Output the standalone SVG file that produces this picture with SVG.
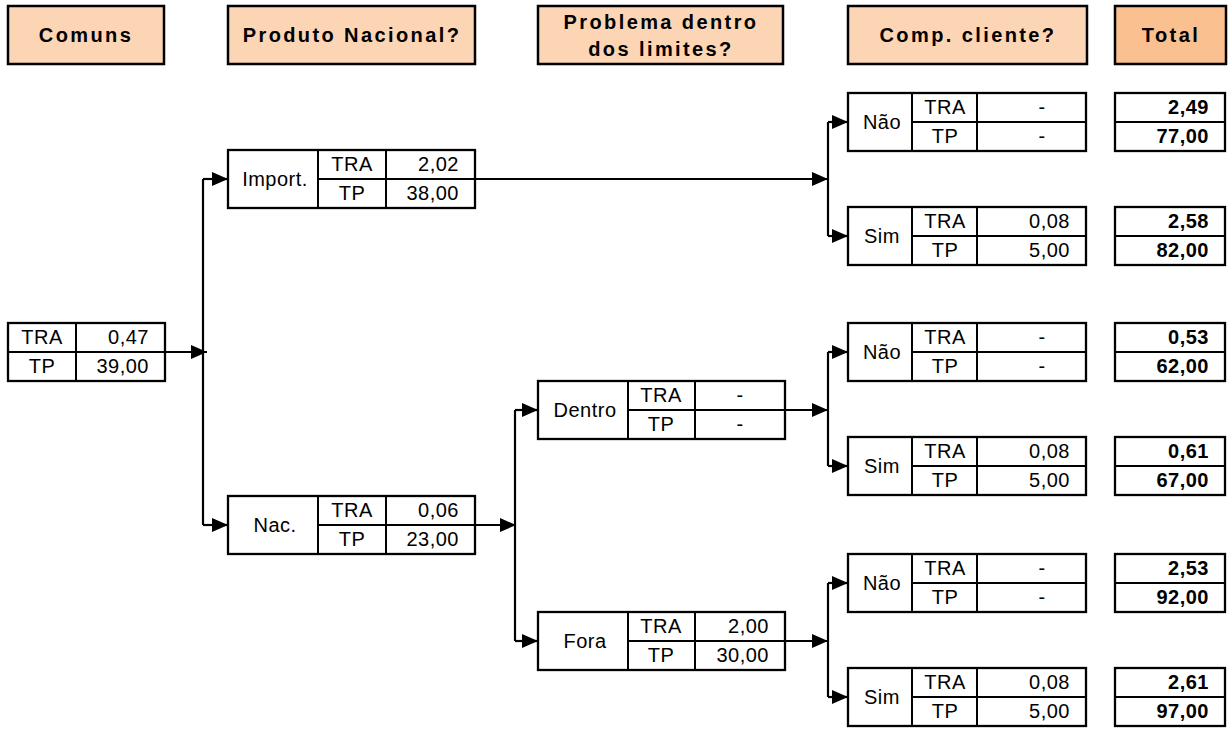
<svg xmlns="http://www.w3.org/2000/svg" width="1231" height="729" viewBox="0 0 1231 729">
  <style>
    .hdr { fill: #FCD5B4; stroke: #000; stroke-width: 2.5; }
    .hdr.tot { fill: #FAC090; }
    .ht { font-family: "Liberation Sans", Arial, sans-serif; font-weight: bold; font-size: 20px; letter-spacing: 2.4px; text-anchor: middle; fill: #000; }
    .cell { fill: #fff; stroke: #000; stroke-width: 2.3; }
    .grid { stroke: #000; stroke-width: 2; fill: none; }
    .t { font-family: "Liberation Sans", Arial, sans-serif; font-size: 20px; letter-spacing: 0.5px; fill: #000; }
    .c { text-anchor: middle; }
    .r { text-anchor: end; }
    .b { font-weight: bold; }
    .wire { stroke: #000; stroke-width: 2.2; fill: none; }
    .arr { stroke: #000; stroke-width: 2.2; fill: none; marker-end: url(#head); }
  </style>
  <defs>
    <marker id="head" markerUnits="userSpaceOnUse" markerWidth="16" markerHeight="14" refX="16" refY="7" orient="auto">
      <path d="M0,0 L16,7 L0,14 Z" fill="#000"/>
    </marker>
  </defs>

  <rect width="1231" height="729" fill="#fff"/>

  <!-- column headers -->
  <g id="hdr-comuns">
    <rect class="hdr" x="8" y="6" width="156" height="58"/>
    <text class="ht" x="86" y="42">Comuns</text>
  </g>
  <g id="hdr-produto">
    <rect class="hdr" x="228" y="6" width="247" height="58"/>
    <text class="ht" x="352" y="42">Produto Nacional?</text>
  </g>
  <g id="hdr-problema">
    <rect class="hdr" x="538" y="6" width="245" height="58"/>
    <text class="ht" x="661" y="29">Problema dentro</text>
    <text class="ht" x="661" y="56">dos limites?</text>
  </g>
  <g id="hdr-comp">
    <rect class="hdr" x="848" y="6" width="239" height="58"/>
    <text class="ht" x="968" y="42">Comp. cliente?</text>
  </g>
  <g id="hdr-total">
    <rect class="hdr tot" x="1115" y="6" width="111" height="58"/>
    <text class="ht" x="1171" y="42">Total</text>
  </g>

  <!-- connectors -->
  <g id="connectors">
    <path class="arr" d="M165,352 H207"/>
    <path class="wire" d="M203,179 V525"/>
    <path class="arr" d="M203,179 H228"/>
    <path class="arr" d="M203,525 H228"/>

    <path class="arr" d="M475,179 H828"/>
    <path class="wire" d="M828,122 V236"/>
    <path class="arr" d="M828,122 H848"/>
    <path class="arr" d="M828,236 H848"/>

    <path class="arr" d="M475,525 H516"/>
    <path class="wire" d="M515,410 V641"/>
    <path class="arr" d="M515,410 H538"/>
    <path class="arr" d="M515,641 H538"/>

    <path class="arr" d="M785,410 H828"/>
    <path class="wire" d="M828,352 V466"/>
    <path class="arr" d="M828,352 H848"/>
    <path class="arr" d="M828,466 H848"/>

    <path class="arr" d="M785,641 H828"/>
    <path class="wire" d="M828,583 V697"/>
    <path class="arr" d="M828,583 H848"/>
    <path class="arr" d="M828,697 H848"/>
  </g>

  <!-- common root -->
  <g id="comuns">
    <rect class="cell" x="8" y="323" width="157" height="58"/>
    <path class="grid" d="M76,323 V381 M8,352 H165"/>
    <text class="t c" x="42" y="344">TRA</text>
    <text class="t r" x="149" y="344">0,47</text>
    <text class="t c" x="42" y="373">TP</text>
    <text class="t r" x="149" y="373">39,00</text>
  </g>

  <!-- national product branch -->
  <g id="import">
    <rect class="cell" x="228" y="150" width="247" height="58"/>
    <path class="grid" d="M318,150 V208 M386,150 V208 M318,179 H475"/>
    <text class="t c" x="275" y="186">Import.</text>
    <text class="t c" x="352" y="171">TRA</text>
    <text class="t r" x="459" y="171">2,02</text>
    <text class="t c" x="352" y="200">TP</text>
    <text class="t r" x="459" y="200">38,00</text>
  </g>
  <g id="nac">
    <rect class="cell" x="228" y="496" width="247" height="58"/>
    <path class="grid" d="M318,496 V554 M386,496 V554 M318,525 H475"/>
    <text class="t c" x="275" y="532">Nac.</text>
    <text class="t c" x="352" y="517">TRA</text>
    <text class="t r" x="459" y="517">0,06</text>
    <text class="t c" x="352" y="546">TP</text>
    <text class="t r" x="459" y="546">23,00</text>
  </g>

  <!-- limits branch -->
  <g id="dentro">
    <rect class="cell" x="538" y="381" width="247" height="58"/>
    <path class="grid" d="M628,381 V439 M695,381 V439 M628,410 H785"/>
    <text class="t c" x="585" y="417">Dentro</text>
    <text class="t c" x="661" y="402">TRA</text>
    <text class="t c" x="740" y="402">-</text>
    <text class="t c" x="661" y="431">TP</text>
    <text class="t c" x="740" y="431">-</text>
  </g>
  <g id="fora">
    <rect class="cell" x="538" y="612" width="247" height="58"/>
    <path class="grid" d="M628,612 V670 M695,612 V670 M628,641 H785"/>
    <text class="t c" x="585" y="648">Fora</text>
    <text class="t c" x="661" y="633">TRA</text>
    <text class="t r" x="769" y="633">2,00</text>
    <text class="t c" x="661" y="662">TP</text>
    <text class="t r" x="769" y="662">30,00</text>
  </g>

  <!-- customer complaint outcomes -->
  <g id="imp-nao">
    <rect class="cell" x="848" y="93" width="238" height="58"/>
    <path class="grid" d="M912,93 V151 M977,93 V151 M912,122 H1086"/>
    <text class="t c" x="882" y="129">Não</text>
    <text class="t c" x="945" y="114">TRA</text>
    <text class="t c" x="1042" y="114">-</text>
    <text class="t c" x="945" y="143">TP</text>
    <text class="t c" x="1042" y="143">-</text>
  </g>
  <g id="imp-sim">
    <rect class="cell" x="848" y="207" width="238" height="58"/>
    <path class="grid" d="M912,207 V265 M977,207 V265 M912,236 H1086"/>
    <text class="t c" x="882" y="243">Sim</text>
    <text class="t c" x="945" y="228">TRA</text>
    <text class="t r" x="1070" y="228">0,08</text>
    <text class="t c" x="945" y="257">TP</text>
    <text class="t r" x="1070" y="257">5,00</text>
  </g>
  <g id="dentro-nao">
    <rect class="cell" x="848" y="323" width="238" height="58"/>
    <path class="grid" d="M912,323 V381 M977,323 V381 M912,352 H1086"/>
    <text class="t c" x="882" y="359">Não</text>
    <text class="t c" x="945" y="344">TRA</text>
    <text class="t c" x="1042" y="344">-</text>
    <text class="t c" x="945" y="373">TP</text>
    <text class="t c" x="1042" y="373">-</text>
  </g>
  <g id="dentro-sim">
    <rect class="cell" x="848" y="437" width="238" height="58"/>
    <path class="grid" d="M912,437 V495 M977,437 V495 M912,466 H1086"/>
    <text class="t c" x="882" y="473">Sim</text>
    <text class="t c" x="945" y="458">TRA</text>
    <text class="t r" x="1070" y="458">0,08</text>
    <text class="t c" x="945" y="487">TP</text>
    <text class="t r" x="1070" y="487">5,00</text>
  </g>
  <g id="fora-nao">
    <rect class="cell" x="848" y="554" width="238" height="58"/>
    <path class="grid" d="M912,554 V612 M977,554 V612 M912,583 H1086"/>
    <text class="t c" x="882" y="590">Não</text>
    <text class="t c" x="945" y="575">TRA</text>
    <text class="t c" x="1042" y="575">-</text>
    <text class="t c" x="945" y="604">TP</text>
    <text class="t c" x="1042" y="604">-</text>
  </g>
  <g id="fora-sim">
    <rect class="cell" x="848" y="668" width="238" height="58"/>
    <path class="grid" d="M912,668 V726 M977,668 V726 M912,697 H1086"/>
    <text class="t c" x="882" y="704">Sim</text>
    <text class="t c" x="945" y="689">TRA</text>
    <text class="t r" x="1070" y="689">0,08</text>
    <text class="t c" x="945" y="718">TP</text>
    <text class="t r" x="1070" y="718">5,00</text>
  </g>

  <!-- totals -->
  <g id="total-1">
    <rect class="cell" x="1115" y="93" width="110" height="58"/>
    <path class="grid" d="M1115,122 H1225"/>
    <text class="t r b" x="1209" y="114">2,49</text>
    <text class="t r b" x="1209" y="143">77,00</text>
  </g>
  <g id="total-2">
    <rect class="cell" x="1115" y="207" width="110" height="58"/>
    <path class="grid" d="M1115,236 H1225"/>
    <text class="t r b" x="1209" y="228">2,58</text>
    <text class="t r b" x="1209" y="257">82,00</text>
  </g>
  <g id="total-3">
    <rect class="cell" x="1115" y="323" width="110" height="58"/>
    <path class="grid" d="M1115,352 H1225"/>
    <text class="t r b" x="1209" y="344">0,53</text>
    <text class="t r b" x="1209" y="373">62,00</text>
  </g>
  <g id="total-4">
    <rect class="cell" x="1115" y="437" width="110" height="58"/>
    <path class="grid" d="M1115,466 H1225"/>
    <text class="t r b" x="1209" y="458">0,61</text>
    <text class="t r b" x="1209" y="487">67,00</text>
  </g>
  <g id="total-5">
    <rect class="cell" x="1115" y="554" width="110" height="58"/>
    <path class="grid" d="M1115,583 H1225"/>
    <text class="t r b" x="1209" y="575">2,53</text>
    <text class="t r b" x="1209" y="604">92,00</text>
  </g>
  <g id="total-6">
    <rect class="cell" x="1115" y="668" width="110" height="58"/>
    <path class="grid" d="M1115,697 H1225"/>
    <text class="t r b" x="1209" y="689">2,61</text>
    <text class="t r b" x="1209" y="718">97,00</text>
  </g>
</svg>
